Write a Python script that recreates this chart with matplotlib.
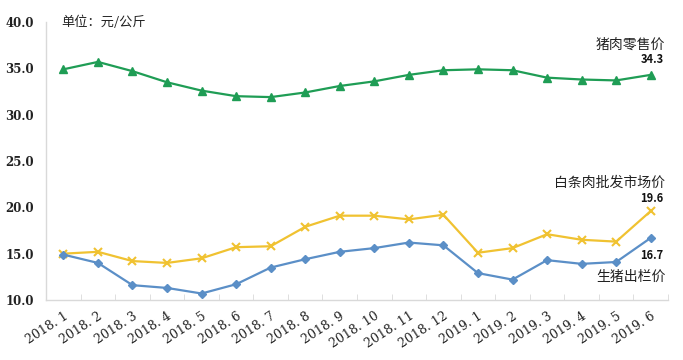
import matplotlib
matplotlib.use("Agg")
import matplotlib.pyplot as plt
import numpy as np

plt.rcParams['font.family'] = ['Noto Sans CJK SC', 'DejaVu Sans']

months = ["2018.1", "2018.2", "2018.3", "2018.4", "2018.5", "2018.6", "2018.7", "2018.8",
          "2018.9", "2018.10", "2018.11", "2018.12", "2019.1", "2019.2", "2019.3", "2019.4",
          "2019.5", "2019.6"]
retail_pork = [34.9, 35.7, 34.7, 33.5, 32.6, 32.0, 31.9, 32.4, 33.1, 33.6, 34.3, 34.8,
               34.9, 34.8, 34.0, 33.8, 33.7, 34.3]
wholesale_carcass = [15.0, 15.2, 14.2, 14.0, 14.5, 15.7, 15.8, 17.9, 19.1, 19.1, 18.7, 19.2,
                     15.1, 15.6, 17.1, 16.5, 16.3, 19.6]
live_hog = [14.9, 14.0, 11.6, 11.3, 10.7, 11.7, 13.5, 14.4, 15.2, 15.6, 16.2, 15.9,
            12.9, 12.2, 14.3, 13.9, 14.1, 16.7]
yticks = [10.0, 15.0, 20.0, 25.0, 30.0, 35.0, 40.0]

fig = plt.figure(figsize=(6.83, 3.60), dpi=100)
ax = fig.add_axes([0.0675, 0.1667, 0.9105, 0.772])
x = np.arange(len(months))

green = '#1f9d55'
yellow = '#f0c231'
blue = '#5b8fc7'

ax.plot(x, retail_pork, color=green, lw=1.6, marker='^', ms=6, mfc=green, mec=green)
ax.plot(x, wholesale_carcass, color=yellow, lw=1.6, marker='x', ms=6, mew=1.5)
ax.plot(x, live_hog, color=blue, lw=1.6, marker='D', ms=4.5, mfc=blue, mec=blue)

ax.set_xlim(-0.5, len(months) - 0.5)
ax.set_ylim(10, 40)
ax.set_yticks(yticks)
ax.set_yticklabels([f"{v:.1f}" for v in yticks])
ax.set_xticks(x)
ax.set_xticklabels([m.replace('.', '. ') for m in months], rotation=33, ha='right',
                   rotation_mode='anchor')
for lab in ax.get_yticklabels():
    lab.set_fontfamily('DejaVu Serif')
    lab.set_fontsize(8.5)
    lab.set_fontweight('bold')
    lab.set_color('#222222')
for lab in ax.get_xticklabels():
    lab.set_fontfamily('DejaVu Serif')
    lab.set_fontsize(9)
    lab.set_color('#222222')
ax.set_xticks(np.arange(-0.5, len(months) + 0.5, 1), minor=True)
ax.tick_params(axis='x', which='major', length=0, pad=7)
ax.tick_params(axis='x', which='minor', length=4, direction='in', color='#d9d9d9')
ax.tick_params(axis='y', length=0, pad=9)

for s in ['top', 'right']:
    ax.spines[s].set_visible(False)
for s in ['left', 'bottom']:
    ax.spines[s].set_color('#d9d9d9')
    ax.spines[s].set_linewidth(1.0)

ax.text(-0.05, 40.0, "单位：元/公斤", fontsize=9.5, va='center', ha='left', color='#222222')

last = len(months) - 1
xr = last + 0.42
ax.text(xr, 37.6, "猪肉零售价", fontsize=10, ha='right', va='center', color='#222222')
ax.text(xr - 0.05, 36.0, f"{retail_pork[-1]:.1f}", fontsize=8, fontweight='bold',
        ha='right', va='center', color='#111111')
ax.text(xr, 22.6, "白条肉批发市场价", fontsize=10, ha='right', va='center', color='#222222')
ax.text(xr - 0.05, 21.0, f"{wholesale_carcass[-1]:.1f}", fontsize=8, fontweight='bold',
        ha='right', va='center', color='#111111')
ax.text(xr - 0.05, 14.8, f"{live_hog[-1]:.1f}", fontsize=8, fontweight='bold',
        ha='right', va='center', color='#111111')
ax.text(xr, 12.5, "生猪出栏价", fontsize=10, ha='right', va='center', color='#222222')

fig.savefig("out.png", dpi=100)
